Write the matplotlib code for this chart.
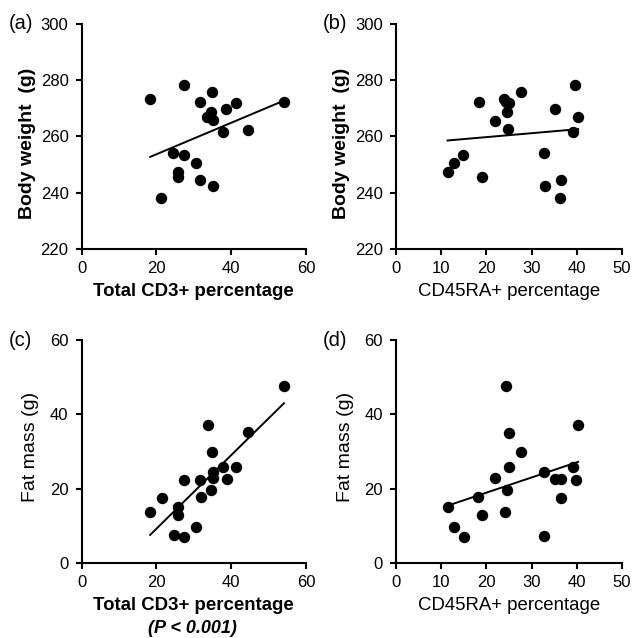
import numpy as np
import matplotlib
matplotlib.use("Agg")
import matplotlib.pyplot as plt

plt.rcParams['font.family'] = ['Liberation Sans', 'DejaVu Sans']

# Panel (a): Total CD3+ % vs body weight
a_x = [18.3, 27.3, 34.8, 31.6, 41.2, 38.7, 34.6, 33.4, 35.2, 37.8, 44.6, 54.1,
       24.5, 27.4, 30.7, 25.8, 25.7, 31.6, 35.0, 21.3]
a_y = [273.2, 278.2, 275.9, 272.3, 271.7, 269.7, 268.8, 267.0, 265.8, 261.5, 262.4, 272.1,
       254.0, 253.5, 250.7, 247.5, 245.5, 244.6, 242.6, 238.3]

# Panel (b): CD45RA+ % vs body weight
b_x = [11.4, 12.8, 14.9, 18.3, 19.0, 21.9, 24.0, 25.1, 24.6, 24.8, 27.7, 35.1,
       39.7, 40.3, 39.1, 32.7, 32.9, 36.4, 36.2, 24.3]
b_y = [247.5, 250.5, 253.4, 272.3, 245.5, 265.6, 273.2, 271.7, 268.8, 262.5, 275.9, 269.7,
       278.2, 267.0, 261.5, 254.0, 242.6, 244.6, 238.3, 272.1]

# Panel (c): Total CD3+ % vs fat mass
c_x = [18.3, 21.4, 25.8, 25.7, 24.7, 27.4, 27.4, 30.7, 31.6, 31.8, 33.9, 34.8,
       35.2, 35.2, 34.6, 37.8, 38.8, 41.2, 44.6, 54.1]
c_y = [13.9, 17.5, 15.2, 13.0, 7.6, 7.0, 22.4, 9.8, 22.4, 17.9, 37.2, 30.0,
       24.6, 22.8, 19.7, 25.8, 22.6, 25.8, 35.2, 47.7]

# Panel (d): CD45RA+ % vs fat mass
d_x = [11.4, 12.8, 15.0, 18.2, 19.0, 21.9, 24.1, 24.3, 24.9, 24.9, 24.6, 27.6,
       32.8, 32.7, 35.2, 36.5, 36.4, 39.1, 39.9, 40.3]
d_y = [15.0, 9.8, 7.0, 17.9, 13.0, 22.8, 13.9, 47.7, 35.1, 25.8, 19.7, 29.8,
       24.4, 7.4, 22.6, 22.6, 17.5, 25.8, 22.4, 37.2]

W, H = 632, 638
fig = plt.figure(figsize=(W / 100, H / 100), dpi=100)


def make_ax(left, right, top, bottom):
    return fig.add_axes([left / W, 1 - bottom / H, (right - left) / W, (bottom - top) / H])


panels = [
    dict(box=(81.7, 306, 23.6, 249.3), x=a_x, y=a_y, xlim=(0, 60), xt=[0, 20, 40, 60],
         ylim=(220, 300), yt=[220, 240, 260, 280, 300], xl='Total CD3+ percentage', xb=True,
         yl='Body weight  (g)', yb=True, tag='(a)', ylc=0.47, ylo=45.5),
    dict(box=(396, 622, 23.6, 249.3), x=b_x, y=b_y, xlim=(0, 50), xt=[0, 10, 20, 30, 40, 50],
         ylim=(220, 300), yt=[220, 240, 260, 280, 300], xl='CD45RA+ percentage', xb=False,
         yl='Body weight  (g)', yb=True, tag='(b)', ylc=0.47, ylo=45.5),
    dict(box=(81.7, 306, 340, 563.3), x=c_x, y=c_y, xlim=(0, 60), xt=[0, 20, 40, 60],
         ylim=(0, 60), yt=[0, 20, 40, 60], xl='Total CD3+ percentage', xb=True,
         yl='Fat mass (g)', yb=False, tag='(c)', ylc=0.52, ylo=42.5),
    dict(box=(396, 622, 340, 563.3), x=d_x, y=d_y, xlim=(0, 50), xt=[0, 10, 20, 30, 40, 50],
         ylim=(0, 60), yt=[0, 20, 40, 60], xl='CD45RA+ percentage', xb=False,
         yl='Fat mass (g)', yb=False, tag='(d)', ylc=0.52, ylo=42.5),
]

for p in panels:
    ax = make_ax(*p['box'])
    x = np.array(p['x']); y = np.array(p['y'])
    ax.plot(x, y, 'o', color='black', markersize=7.2, clip_on=False, zorder=3)
    k, b0 = np.polyfit(x, y, 1)
    xs = np.array([x.min(), x.max()])
    ax.plot(xs, k * xs + b0, color='black', lw=1.4, zorder=2)
    ax.set_xlim(*p['xlim']); ax.set_ylim(*p['ylim'])
    ax.set_xticks(p['xt']); ax.set_yticks(p['yt'])
    for s in ['top', 'right']:
        ax.spines[s].set_visible(False)
    for s in ['left', 'bottom']:
        ax.spines[s].set_linewidth(1.5)
    ax.tick_params(direction='out', length=4.5, width=1.5, labelsize=12)
    ax.tick_params(axis='y', pad=5)
    ax.tick_params(axis='x', pad=4)
    ax.set_xlabel(p['xl'], fontsize=13.4, fontweight='bold' if p['xb'] else 'normal', labelpad=5)
    ax.set_ylabel(p['yl'], fontsize=14, fontweight='bold' if p['yb'] else 'normal')
    l, r, t, bt = p['box']
    ax.yaxis.set_label_coords(-p['ylo'] / (r - l), p['ylc'])
    fig.text((l - 73) / W, 1 - (t + 0) / H, p['tag'], fontsize=14.5, ha='left', va='center')

fig.text(192 / W, 1 - 628.5 / H, '(P < 0.001)', fontsize=13,
         fontweight='bold', fontstyle='italic', ha='center', va='center')

fig.savefig('out.png', dpi=100)
